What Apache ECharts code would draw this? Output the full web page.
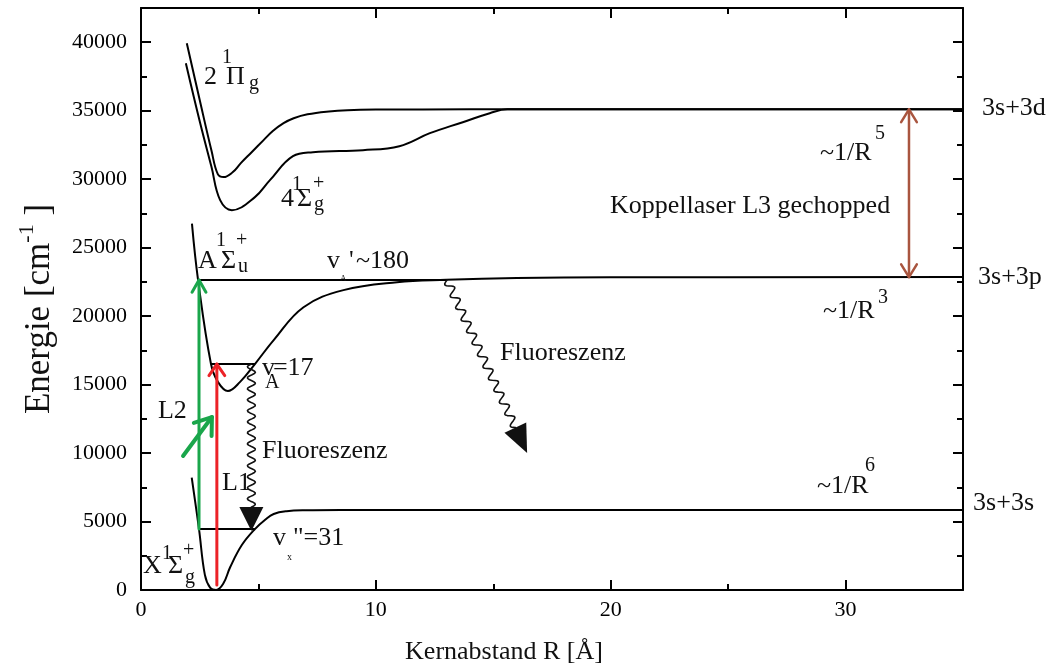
<!DOCTYPE html>
<html>
<head>
<meta charset="utf-8">
<script src="https://cdn.jsdelivr.net/npm/echarts/dist/echarts.min.js"></script>
<style>
  html, body { margin: 0; padding: 0; background: #fff; }
  #chart { width: 1051px; height: 670px; }
</style>
</head>
<body>
<div id="chart"></div>
<script>
// Na2 potential curves: internuclear distance R [Å] against energy E [cm^-1]

// Ground state X 1Σg+  (asymptote 3s+3s)
const xState_R = [2.16, 2.47, 2.72, 2.95, 3.2, 3.5, 3.8, 4.3, 4.85, 5.3, 5.65, 6.2, 7.0, 8.5, 35];
const xState_E = [8200, 4450, 1100, 150, 0, 450, 1680, 3300, 4450, 5150, 5550, 5750, 5820, 5840, 5840];

// A 1Σu+  (asymptote 3s+3p)
const aState_R = [2.17, 2.43, 2.98, 3.28, 3.7, 4.21, 4.85, 5.65, 6.92, 8.62, 10.9, 13, 16, 20, 35];
const aState_E = [26750, 22630, 16500, 15180, 14530, 15180, 16500, 18250, 20650, 21900, 22480, 22650, 22780, 22840, 22850];

// 2 1Πg  (asymptote 3s+3d)
const piState_R = [1.95, 2.5, 3.0, 3.27, 3.52, 3.9, 4.25, 4.7, 5.22, 5.6, 6.07, 6.5, 7.09, 8.0, 8.79, 10, 14, 35];
const piState_E = [39930, 35780, 32090, 30370, 30150, 30500, 31170, 31950, 32850, 33500, 34090, 34450, 34740, 34950, 35040, 35080, 35100, 35100];

// 4 1Σg+  (asymptote 3s+3d)
const sigState_R = [1.91, 2.5, 3.0, 3.37, 3.87, 4.85, 5.49, 6.47, 7.32, 9.45, 11.0, 12.3, 13.7, 14.85, 15.6, 35];
const sigState_E = [38470, 34230, 30900, 28470, 27740, 28690, 29930, 31680, 31970, 32120, 32410, 33360, 34160, 34820, 35100, 35100];

// Vibrational levels
const levelX31_R = [2.47, 4.85];   const levelX31_E = [4450, 4450];
const levelA17_R = [2.98, 4.85];   const levelA17_E = [16500, 16500];
const levelA180_R = [2.43, 13.03]; const levelA180_E = [22630, 22630];

// Transitions: [R start, E start, R end, E end]
const transitions = [
  [2.47, 4450, 2.47, 22630],     // L2
  [3.23, 365, 3.23, 16500],      // L1
  [1.79, 9785, 3.02, 12630],     // L2 marker
  [32.70, 22850, 32.70, 35100],  // L3 coupling laser
  [4.70, 16500, 4.70, 4300],     // fluorescence v_A=17
  [13.03, 22630, 16.44, 10000]   // fluorescence v_A'~180
];

// Axis ticks
const xTicks = { min: 0, max: 35, major: 10, minor: 5 };
const yTicks = { min: 0, max: 42500, major: 5000, minor: 2500 };

// Annotation anchors in data coordinates [R, E]
const labelAnchors = [
  [2.68, 37460], [5.96, 28550], [2.43, 24020], [7.92, 24020], [5.15, 16210],
  [0.085, 1752], [5.62, 3797], [0.72, 13070], [3.45, 7813], [5.15, 10150],
  [15.29, 17305], [19.97, 28040], [28.91, 31910], [29.04, 20370], [28.78, 7594],
  [35.81, 35196], [35.64, 22855], [35.43, 6353]
];
// Text pieces of each annotation: [text, dx, dy, fontSize]
const labelParts = [
  [['2', 0, 0, 26], ['1', 18, -19, 20], ['Π', 22, 0, 26], ['g', 45, 7, 20]],
  [['4', 0, 0, 26], ['1', 11, -14, 20], ['Σ', 16, 0, 26], ['+', 32, -15, 20], ['g', 33, 6, 20]],
  [['A', 0, 0, 26], ['1', 18, -20, 20], ['Σ', 23, 0, 26], ['+', 38, -20, 20], ['u', 40, 6, 20]],
  [['v', 0, 0, 26], ['A', 13, 18, 9], ["'", 22, 0, 26], ['~180', 29, 0, 26]],
  [['v', 0, 0, 26], ['A', 3, 15, 20], ['=17', 11, 0, 26]],
  [['X', 0, 0, 26], ['1', 19, -12, 20], ['Σ', 25, 0, 26], ['+', 40, -15, 20], ['g', 42, 12, 20]],
  [['v', 0, 0, 26], ['x', 14, 19, 10], ['"=31', 20, 0, 26]],
  [['L2', 0, 0, 26]],
  [['L1', 0, 0, 26]],
  [['Fluoreszenz', 0, 0, 26]],
  [['Fluoreszenz', 0, 0, 26]],
  [['Koppellaser L3 gechopped', 0, 0, 26]],
  [['~1/R', 0, 0, 26], ['5', 55, -19, 20]],
  [['~1/R', 0, 0, 26], ['3', 55, -13, 20]],
  [['~1/R', 0, 0, 26], ['6', 48, -20, 20]],
  [['3s+3d', 0, 0, 26]],
  [['3s+3p', 0, 0, 26]],
  [['3s+3s', 0, 0, 26]]
];

const SERIF = "'Liberation Serif', 'Times New Roman', serif";
const INK = '#111';

// Drawing style of each transition arrow
const arrowStyles = [
  { kind: 'open', color: '#1aa64b', width: 3, len: 14, spread: 0.52 },
  { kind: 'open', color: '#ec2227', width: 3, len: 14, spread: 0.6 },
  { kind: 'open', color: '#1aa64b', width: 4, len: 19, spread: 0.62 },
  { kind: 'double', color: '#a9553f', width: 2.5, len: 15, spread: 0.55 },
  { kind: 'wave', color: '#111', width: 1.6, headLen: 24, headW: 24, amp: 4, wl: 11 },
  { kind: 'wave', color: '#111', width: 1.6, headLen: 28, headW: 24, amp: 4, wl: 13 }
];

function chevron(tip, ux, uy, len, spread) {
  const c = Math.cos(spread), s = Math.sin(spread);
  const ax = -ux * c + -uy * s, ay = -uy * c + ux * s;
  const bx = -ux * c - -uy * s, by = -uy * c - ux * s;
  return [[tip[0] + ax * len, tip[1] + ay * len], tip, [tip[0] + bx * len, tip[1] + by * len]];
}

function wavyPoints(a, b, amp, wl) {
  const dx = b[0] - a[0], dy = b[1] - a[1];
  const L = Math.hypot(dx, dy);
  const ux = dx / L, uy = dy / L, nx = -uy, ny = ux;
  const n = Math.ceil(L / 1.2);
  const pts = [];
  for (let i = 0; i <= n; i++) {
    const s = L * i / n;
    const w = amp * Math.sin(2 * Math.PI * s / wl);
    pts.push([a[0] + ux * s + nx * w, a[1] + uy * s + ny * w]);
  }
  return pts;
}

function renderArrow(params, api) {
  const a = api.coord([api.value(0), api.value(1)]);
  const b = api.coord([api.value(2), api.value(3)]);
  const st = arrowStyles[params.dataIndex];
  const L = Math.hypot(b[0] - a[0], b[1] - a[1]);
  const ux = (b[0] - a[0]) / L, uy = (b[1] - a[1]) / L;
  const stroke = { stroke: st.color, lineWidth: st.width, fill: null, lineCap: 'round', lineJoin: 'round' };
  const children = [];
  if (st.kind === 'open' || st.kind === 'double') {
    children.push({ type: 'line', shape: { x1: a[0], y1: a[1], x2: b[0], y2: b[1] }, style: stroke });
    children.push({ type: 'polyline', shape: { points: chevron(b, ux, uy, st.len, st.spread) }, style: stroke });
    if (st.kind === 'double') {
      children.push({ type: 'polyline', shape: { points: chevron(a, -ux, -uy, st.len, st.spread) }, style: stroke });
    }
  } else {
    const base = [b[0] - ux * st.headLen, b[1] - uy * st.headLen];
    children.push({ type: 'polyline', shape: { points: wavyPoints(a, base, st.amp, st.wl) }, style: stroke });
    const nx = -uy, ny = ux, hw = st.headW / 2;
    children.push({
      type: 'polygon',
      shape: { points: [b, [base[0] + nx * hw, base[1] + ny * hw], [base[0] - nx * hw, base[1] - ny * hw]] },
      style: { fill: st.color, stroke: null }
    });
  }
  return { type: 'group', children };
}

function renderLabel(params, api) {
  const p = api.coord([api.value(0), api.value(1)]);
  const parts = labelParts[params.dataIndex];
  return {
    type: 'group',
    children: parts.map(([t, dx, dy, fs]) => ({
      type: 'text',
      x: p[0] + dx,
      y: p[1] + dy,
      style: {
        text: t, fill: INK, fontSize: fs, fontFamily: SERIF,
        align: 'left', verticalAlign: 'middle', textAlign: 'left', textVerticalAlign: 'middle'
      }
    }))
  };
}

function zip(rs, es) { return rs.map((r, i) => [r, es[i]]); }

function curve(name, rs, es, smooth) {
  return {
    name, type: 'line', data: zip(rs, es), showSymbol: false, smooth: smooth,
    lineStyle: { color: '#000', width: 2 }, silent: true, z: 3
  };
}

function xAxisDef(position, step, major) {
  return {
    type: 'value', position, min: xTicks.min, max: xTicks.max, interval: step,
    axisLine: { show: major, onZero: false, lineStyle: { color: '#000', width: 2 } },
    axisTick: { show: true, inside: true, length: major ? 10 : 6, lineStyle: { color: '#000', width: 2 } },
    axisLabel: {
      show: major && position === 'bottom', color: '#000', fontFamily: SERIF, fontSize: 22,
      margin: 9, showMaxLabel: false, formatter: v => String(v)
    },
    splitLine: { show: false }, minorTick: { show: false }
  };
}
function yAxisDef(position, step, major) {
  return {
    type: 'value', position, min: yTicks.min, max: yTicks.max, interval: step,
    axisLine: { show: major, onZero: false, lineStyle: { color: '#000', width: 2 } },
    axisTick: { show: true, inside: true, length: major ? 10 : 6, lineStyle: { color: '#000', width: 2 } },
    axisLabel: {
      show: major && position === 'left', color: '#000', fontFamily: SERIF, fontSize: 22,
      margin: 14, showMaxLabel: false, formatter: v => String(v)
    },
    splitLine: { show: false }, minorTick: { show: false }
  };
}

const chart = echarts.init(document.getElementById('chart'), null, { renderer: 'canvas' });
chart.setOption({
  animation: false,
  backgroundColor: '#fff',
  grid: { left: 141, right: 88, top: 8, bottom: 80, containLabel: false },
  xAxis: [
    xAxisDef('bottom', xTicks.major, true),
    xAxisDef('bottom', xTicks.minor, false),
    xAxisDef('top', xTicks.major, true),
    xAxisDef('top', xTicks.minor, false)
  ],
  yAxis: [
    yAxisDef('left', yTicks.major, true),
    yAxisDef('left', yTicks.minor, false),
    yAxisDef('right', yTicks.major, true),
    yAxisDef('right', yTicks.minor, false)
  ],
  graphic: [
    {
      type: 'text', x: 504, y: 652,
      style: {
        text: 'Kernabstand R [Å]', fill: INK, fontSize: 26, fontFamily: SERIF,
        align: 'center', verticalAlign: 'middle', textAlign: 'center', textVerticalAlign: 'middle'
      }
    },
    {
      type: 'text', x: 40, y: 309, rotation: Math.PI / 2,
      style: {
        text: '{b|Energie [cm}{s|-1}{b| ]}', fill: INK,
        align: 'center', verticalAlign: 'middle', textAlign: 'center', textVerticalAlign: 'middle',
        rich: {
          b: { fontSize: 35, fontFamily: SERIF, fill: INK },
          s: { fontSize: 22, fontFamily: SERIF, fill: INK, padding: [0, 0, 26, 0] }
        }
      }
    }
  ],
  series: [
    curve('X', xState_R, xState_E, 0.4),
    curve('A', aState_R, aState_E, 0.4),
    curve('2Pi', piState_R, piState_E, 0.4),
    curve('4Sigma', sigState_R, sigState_E, 0.4),
    curve('vX31', levelX31_R, levelX31_E, false),
    curve('vA17', levelA17_R, levelA17_E, false),
    curve('vA180', levelA180_R, levelA180_E, false),
    {
      name: 'transitions', type: 'custom', data: transitions, renderItem: renderArrow,
      encode: { x: [0, 2], y: [1, 3] }, clip: false, silent: true, z: 5
    },
    {
      name: 'labels', type: 'custom', data: labelAnchors, renderItem: renderLabel,
      encode: { x: 0, y: 1 }, clip: false, silent: true, z: 6
    }
  ]
});
</script>
</body>
</html>
